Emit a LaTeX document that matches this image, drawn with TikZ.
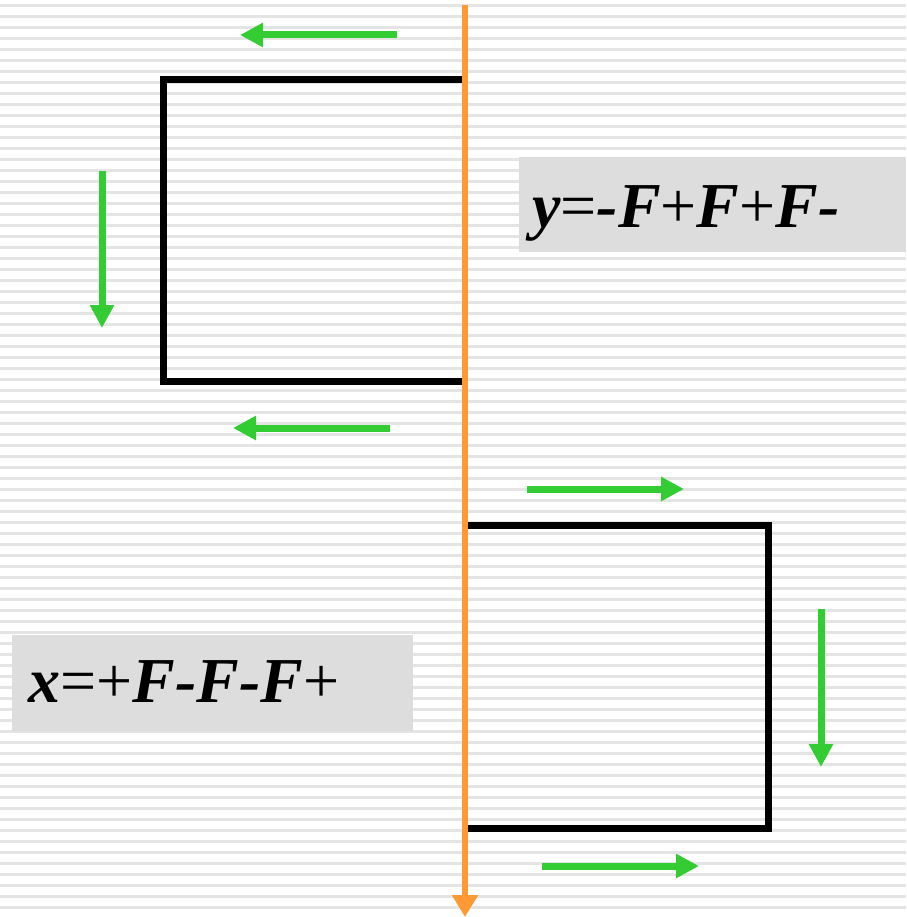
\documentclass[tikz,border=0pt]{standalone}
\usepackage{fontspec}
\setmainfont{Liberation Serif}
\usetikzlibrary{arrows.meta}
\definecolor{stripe}{RGB}{228,228,228}
\definecolor{boxgray}{RGB}{221,221,221}
\definecolor{grn}{RGB}{51,204,51}
\definecolor{orng}{RGB}{255,153,51}
\tikzset{
  garrow/.style={draw=grn, line width=7pt, -{Triangle[length=23pt,width=23pt]}},
  frame/.style={draw=black, line width=7pt, line cap=butt},
  graybox/.style={fill=boxgray, inner sep=0pt, anchor=north west},
  formula/.style={font=\fontsize{64}{72}\selectfont, inner sep=0pt, anchor=base west}
}
\begin{document}
\begin{tikzpicture}[x=1pt,y=-1pt]
\useasboundingbox (0,0) rectangle (906,917);
\fill[white] (0,0) rectangle (906,917);
\foreach \k in {0,...,83} {
  \draw[stripe, line width=2.4pt] (0,{5.5+11*\k}) -- (906,{5.5+11*\k});
}
% gray boxes
\node[graybox, minimum width=387pt, minimum height=95pt] (ybox) at (519,157) {};
\node[graybox, minimum width=401pt, minimum height=96pt] (xbox) at (12,635) {};
\node[formula] (ytext) at (532,227) {\textbf{\textit{y}}=\textbf{\textit{-F}}+\textbf{\textit{F}}+\textbf{\textit{F-}}};
\node[formula] (xtext) at (28,702) {\textbf{\textit{x}}=+\textbf{\textit{F-F-F}}+};
% axis coordinates
\coordinate (a1) at (465,5);
\coordinate (a2) at (465,917);
% upper frame
\coordinate (u1) at (465,80);
\coordinate (u2) at (163,80);
\coordinate (u3) at (163,381);
\coordinate (u4) at (465,381);
\draw[frame] (u1) -- (u2) -- (u3) -- (u4);
% lower frame
\coordinate (l1) at (465,525);
\coordinate (l2) at (768,525);
\coordinate (l3) at (768,828);
\coordinate (l4) at (465,828);
\draw[frame] (l1) -- (l2) -- (l3) -- (l4);
% orange axis
\draw[orng, line width=6pt, -{Triangle[length=22pt,width=25pt]}] (a1) -- (a2);
% green arrows
\coordinate (g1s) at (397,35);  \coordinate (g1e) at (240,35);
\coordinate (g2s) at (102,171); \coordinate (g2e) at (102,328);
\coordinate (g3s) at (390,428); \coordinate (g3e) at (233,428);
\coordinate (g4s) at (527,489); \coordinate (g4e) at (684,489);
\coordinate (g5s) at (821,609); \coordinate (g5e) at (821,767);
\coordinate (g6s) at (542,866); \coordinate (g6e) at (699,866);
\draw[garrow] (g1s) -- (g1e);
\draw[garrow] (g2s) -- (g2e);
\draw[garrow] (g3s) -- (g3e);
\draw[garrow] (g4s) -- (g4e);
\draw[garrow] (g5s) -- (g5e);
\draw[garrow] (g6s) -- (g6e);
\end{tikzpicture}
\end{document}
